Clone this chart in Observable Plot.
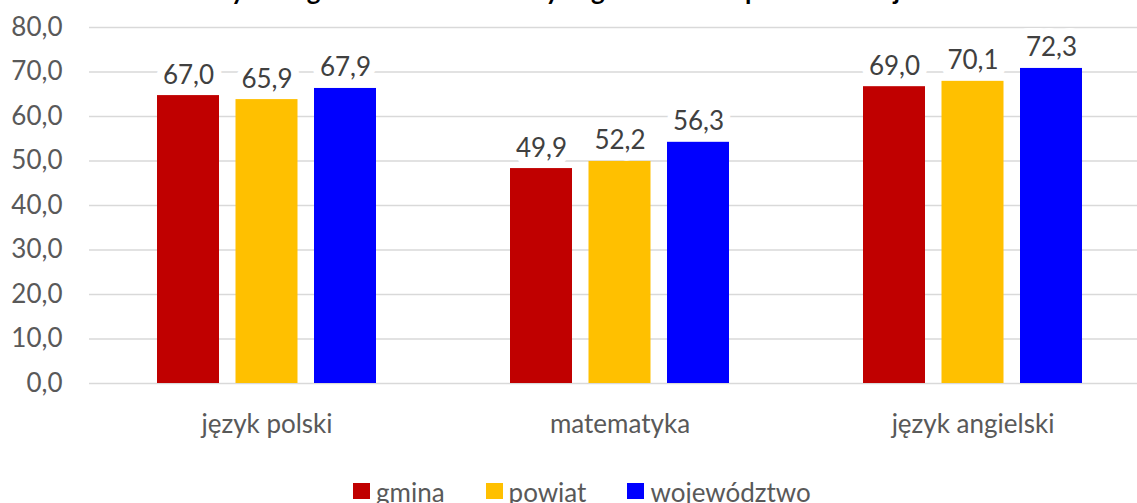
<!DOCTYPE html>
<html><head><meta charset="utf-8">
<script src="https://cdn.jsdelivr.net/npm/d3@7"></script>
<script src="https://cdn.jsdelivr.net/npm/@observablehq/plot@0.6"></script>
<style>
html,body{margin:0;padding:0;background:#fff;overflow:hidden;width:1137px;height:503px;}
#wrap{position:relative;width:1137px;height:503px;overflow:hidden;font-family:Lato,sans-serif;}
#title{position:absolute;left:0;width:1137px;top:-25px;line-height:30px;text-align:center;font-weight:bold;font-size:26px;color:#000;white-space:nowrap;z-index:2;}
#chart{position:absolute;left:0;top:0;}
#legend{position:absolute;top:477px;left:353px;font-size:26px;line-height:30px;color:#595959;white-space:nowrap;}
.item{display:inline-block;margin-right:41px;}
.sw{display:inline-block;width:17px;height:16px;margin-right:6px;vertical-align:3px;}
</style></head>
<body><div id="wrap">
<div id="chart"></div>
<div id="title">Średnie wyniki egzaminu ósmoklasisty w gminie na tle powiatu i województwa</div>
<div id="legend"></div>
</div>
<script>
const categories = ["język polski", "matematyka", "język angielski"];
const seriesNames = ["gmina", "powiat", "województwo"];
const seriesColors = ["#c00000", "#ffc000", "#0000ff"];
// bar heights as drawn in the picture
const gminaBars = [64.7, 48.3, 66.7];
const powiatBars = [63.8, 49.9, 67.9];
const wojBars = [66.3, 54.2, 70.8];
// printed data labels
const gminaLabels = [67.0, 49.9, 69.0];
const powiatLabels = [65.9, 52.2, 70.1];
const wojLabels = [67.9, 56.3, 72.3];
const yTicks = [0, 10, 20, 30, 40, 50, 60, 70, 80];

const fmt = v => v.toFixed(1).replace(".", ",");
const barsBySeries = [gminaBars, powiatBars, wojBars];
const labelsBySeries = [gminaLabels, powiatLabels, wojLabels];
const tables = barsBySeries.map((vals, s) =>
  categories.map((c, i) => ({category: c, series: seriesNames[s], value: vals[i], label: labelsBySeries[s][i]})));

// bar placement within each band (band ≈ 353px)
const insets = [[67, 224], [145.5, 145.5], [224, 67]];
const offsets = [-78.5, 0, 78.5];

const marks = [
  Plot.ruleY(yTicks, {stroke: "#d9d9d9", strokeWidth: 1.5})
];
tables.forEach((t, s) => {
  marks.push(Plot.text(t, {x: "category", y: "value", text: d => fmt(d.label), dx: offsets[s], dy: -12, lineAnchor: "bottom",
    fill: "#404040", stroke: "white", strokeWidth: 16, fontSize: 26}));
});
tables.forEach((t, s) => {
  marks.push(Plot.barY(t, {x: "category", y: "value", fill: seriesColors[s], insetLeft: insets[s][0], insetRight: insets[s][1]}));
});
marks.push(Plot.axisX({tickSize: 0, tickPadding: 31.5, fontSize: 26, fill: "#595959", label: null}));
marks.push(Plot.axisY({ticks: yTicks, tickSize: 0, tickPadding: 27, fontSize: 26, fill: "#595959", label: null, tickFormat: fmt}));

const chart = Plot.plot({
  width: 1137, height: 460,
  marginLeft: 89, marginRight: 0, marginTop: 27, marginBottom: 77,
  x: {domain: categories, range: [89.5, 1148.5], padding: 0},
  y: {domain: [0, 80]},
  style: {fontFamily: "Lato, sans-serif", fontSize: "26px", color: "#595959", background: "white", overflow: "hidden"},
  marks
});
document.getElementById("chart").appendChild(chart);

const legend = document.getElementById("legend");
seriesNames.forEach((n, i) => {
  const it = document.createElement("span");
  it.className = "item";
  it.innerHTML = `<span class="sw" style="background:${seriesColors[i]}"></span>${n}`;
  legend.appendChild(it);
});
</script>
</body></html>
